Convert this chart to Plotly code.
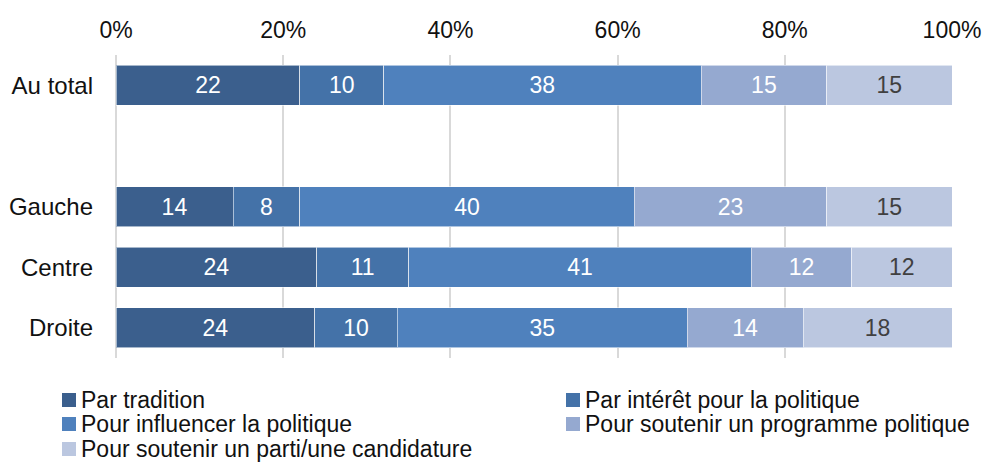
import plotly.graph_objects as go

categories = ["Au total", " ", "Gauche", "Centre", "Droite"]
series_names = [
    "Par tradition",
    "Par intérêt pour la politique",
    "Pour influencer la politique",
    "Pour soutenir un programme politique",
    "Pour soutenir un parti/une candidature",
]
par_tradition = [22, None, 14, 24, 24]
par_interet = [10, None, 8, 11, 10]
pour_influencer = [38, None, 40, 41, 35]
soutenir_programme = [15, None, 23, 12, 14]
soutenir_parti = [15, None, 15, 12, 18]
tick_values = [0, 20, 40, 60, 80, 100]
tick_labels = ["0%", "20%", "40%", "60%", "80%", "100%"]

series_values = [par_tradition, par_interet, pour_influencer, soutenir_programme, soutenir_parti]
colors = ["#3B5F8D", "#4472A8", "#4F81BD", "#95A9D0", "#BBC7E0"]
text_colors = ["white", "white", "white", "white", "#404040"]

FONT = "Liberation Sans, Arial, sans-serif"
FS = 23
FS_CAT = 24
W, H = 984, 462
L, R, T, B = 116, 32, 55, 104
PW, PH = W - L - R, H - T - B

fig = go.Figure()
for name, vals, col, tcol in zip(series_names, series_values, colors, text_colors):
    fig.add_trace(go.Bar(
        y=categories, x=vals, name=name, orientation="h",
        marker=dict(color=col, line=dict(color="rgba(255,255,255,0.55)", width=1)),
        text=[("" if v is None else str(v)) for v in vals],
        textposition="inside", insidetextanchor="middle",
        textfont=dict(size=FS, color=tcol, family=FONT),
        showlegend=False, hoverinfo="skip",
    ))

def px2paper(px, py):
    return (px - L) / PW, (H - B - py) / PH

# custom legend (two columns, three rows)
legend_pos = [(62, 400), (566, 400), (62, 424), (566, 424), (62, 449)]
shapes, annotations = [], []
for (lx, ly), name, col in zip(legend_pos, series_names, colors):
    x0, y0 = px2paper(lx, ly + 7)
    x1, y1 = px2paper(lx + 14, ly - 7)
    shapes.append(dict(type="rect", xref="paper", yref="paper", x0=x0, y0=y0, x1=x1, y1=y1,
                       fillcolor=col, line=dict(width=0)))
    tx, ty = px2paper(lx + 17, ly)
    annotations.append(dict(xref="paper", yref="paper", x=tx, y=ty, xanchor="left", yanchor="middle",
                            text=name, showarrow=False, font=dict(size=FS, color="#111111", family=FONT)))

fig.update_layout(
    width=W, height=H,
    barmode="stack", barnorm="percent", bargap=0.34,
    margin=dict(l=L, r=R, t=T, b=B, autoexpand=False),
    plot_bgcolor="white", paper_bgcolor="white",
    font=dict(family=FONT, size=FS, color="#111111"),
    shapes=shapes, annotations=annotations,
    xaxis=dict(side="top", range=[0, 100], tickvals=tick_values, ticktext=tick_labels,
               showgrid=True, gridcolor="#D9D9D9", gridwidth=1.5,
               zeroline=True, zerolinecolor="#D9D9D9", zerolinewidth=1.5,
               showline=False, ticks="", ticklabelstandoff=11, automargin=False,
               tickfont=dict(size=FS, color="#111111")),
    yaxis=dict(categoryorder="array", categoryarray=categories, autorange="reversed",
               showgrid=False, zeroline=False, showline=False, ticks="", ticklabelstandoff=22,
               automargin=False, tickfont=dict(size=FS_CAT, color="#111111")),
)

fig.write_html("out.html", config={"displayModeBar": False},
               post_script="document.body.style.margin='0';document.body.style.overflow='hidden';")
